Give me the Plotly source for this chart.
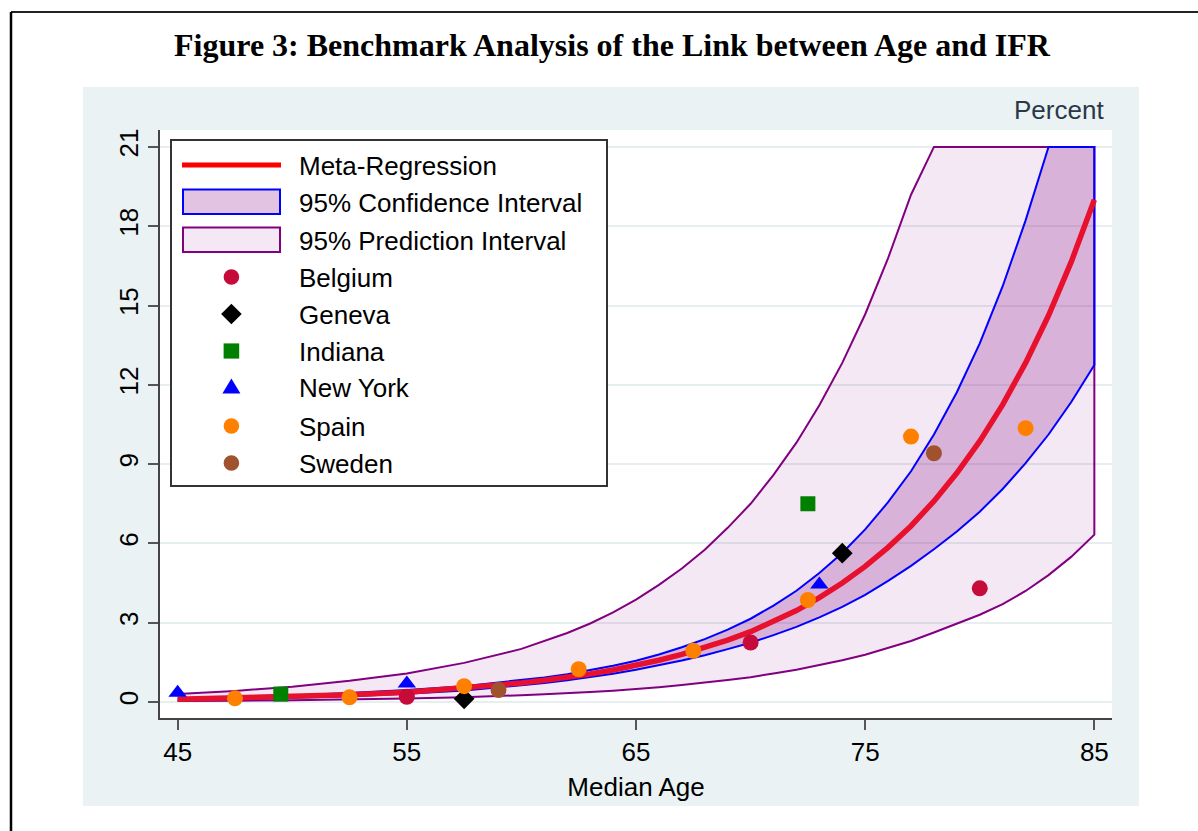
import plotly.graph_objects as go

# ---------------- data ----------------
ages = [45, 47.5, 50, 52.5, 55, 57.5, 60, 61, 62, 63, 64, 65, 66, 67, 68, 69,
        70, 71, 72, 73, 74, 75, 76, 77, 78, 79, 80, 81, 82, 83, 84, 85]
meta_regression = [0.10, 0.14, 0.19, 0.27, 0.37, 0.52, 0.72, 0.82, 0.93, 1.06,
                   1.21, 1.38, 1.58, 1.80, 2.05, 2.34, 2.66, 3.04, 3.46, 3.95,
                   4.50, 5.13, 5.85, 6.66, 7.60, 8.66, 9.87, 11.25, 12.83,
                   14.62, 16.67, 19.0]

# upper bounds stop where they reach the top of the chart (IFR_CAP)
ci_upper_ages = [45, 47.5, 50, 52.5, 55, 57.5, 60, 61, 62, 63, 64, 65, 66, 67,
                 68, 69, 70, 71, 72, 73, 74, 75, 76, 77, 78, 79, 80, 81, 82, 83]
ci_upper = [0.14, 0.19, 0.25, 0.34, 0.45, 0.60, 0.82, 0.93, 1.05, 1.20, 1.37,
            1.56, 1.80, 2.07, 2.38, 2.74, 3.15, 3.65, 4.21, 4.88, 5.64, 6.53,
            7.56, 8.73, 10.12, 11.72, 13.57, 15.73, 18.22, 21.0]
ci_lower = [0.07, 0.10, 0.15, 0.22, 0.31, 0.44, 0.63, 0.72, 0.82, 0.94, 1.07,
            1.22, 1.39, 1.57, 1.77, 2.00, 2.24, 2.53, 2.84, 3.20, 3.60, 4.05,
            4.58, 5.15, 5.78, 6.45, 7.20, 8.06, 9.04, 10.12, 11.36, 12.75]

pi_upper_ages = [45, 47.5, 50, 52.5, 55, 57.5, 60, 61, 62, 63, 64, 65, 66, 67,
                 68, 69, 70, 71, 72, 73, 74, 75, 76, 77, 78]
pi_upper = [0.30, 0.42, 0.58, 0.80, 1.08, 1.48, 2.01, 2.30, 2.61, 2.97, 3.39,
            3.87, 4.43, 5.05, 5.76, 6.59, 7.50, 8.59, 9.81, 11.23, 12.83,
            14.67, 16.79, 19.19, 21.0]
pi_lower = [0.04, 0.05, 0.07, 0.09, 0.13, 0.18, 0.26, 0.29, 0.33, 0.38, 0.43,
            0.49, 0.56, 0.64, 0.73, 0.83, 0.94, 1.08, 1.22, 1.39, 1.58, 1.79,
            2.04, 2.31, 2.63, 2.95, 3.30, 3.70, 4.20, 4.80, 5.50, 6.33]
IFR_CAP = 21
AGE_MAX = 85

belgium_age = [55, 70, 80]
belgium_ifr = [0.2, 2.25, 4.3]
geneva_age = [57.5, 74]
geneva_ifr = [0.12, 5.63]
indiana_age = [49.5, 72.5]
indiana_ifr = [0.3, 7.5]
newyork_age = [45, 55, 73]
newyork_ifr = [0.35, 0.7, 4.45]
spain_age = [47.5, 52.5, 57.5, 62.5, 67.5, 72.5, 77, 82]
spain_ifr = [0.14, 0.18, 0.6, 1.24, 1.94, 3.86, 10.04, 10.36]
sweden_age = [59, 78]
sweden_ifr = [0.45, 9.41]

x_ticks = [45, 55, 65, 75, 85]
y_ticks = [0, 3, 6, 9, 12, 15, 18, 21]

TITLE = "Figure 3: Benchmark Analysis of the Link between Age and IFR"
legend_labels = ["Meta-Regression", "95% Confidence Interval",
                 "95% Prediction Interval", "Belgium", "Geneva", "Indiana",
                 "New York", "Spain", "Sweden"]

# ---------------- styles ----------------
W, H = 1198, 831
L, R, T, B = 160, 1112, 130, 718  # plot area in pixels
FONT = "Liberation Sans, Arial, sans-serif"
RED = "#E8112D"
BLUE = "#0000FF"
PURPLE = "#800080"
CI_FILL = "rgba(128,0,128,0.23)"
PI_FILL = "rgba(128,0,128,0.09)"
C_BEL, C_GEN, C_IND, C_NY, C_SPA, C_SWE = ("#C60B3A", "#000000", "#008000",
                                          "#0000FF", "#FF8000", "#A0522D")


def px(xp):
    return (xp - L) / (R - L)


def py(yp):
    return (B - yp) / (B - T)


fig = go.Figure()
common = dict(showlegend=False, hoverinfo="skip")

# prediction interval: filled band, then its outline
fig.add_trace(go.Scatter(
    x=pi_upper_ages + [AGE_MAX] + ages[::-1],
    y=pi_upper + [IFR_CAP] + pi_lower[::-1],
    mode="lines", fill="toself", fillcolor=PI_FILL,
    line=dict(color=PURPLE, width=2), **common))

# confidence interval
fig.add_trace(go.Scatter(
    x=ci_upper_ages + [AGE_MAX] + ages[::-1],
    y=ci_upper + [IFR_CAP] + ci_lower[::-1],
    mode="lines", fill="toself", fillcolor=CI_FILL,
    line=dict(color=BLUE, width=2), **common))

# meta-regression
fig.add_trace(go.Scatter(x=ages, y=meta_regression, mode="lines",
                         line=dict(color=RED, width=5.5),
                         name="Meta-Regression", showlegend=False))

markers = [
    ("Belgium", belgium_age, belgium_ifr, "circle", C_BEL, 16),
    ("Geneva", geneva_age, geneva_ifr, "diamond", C_GEN, 16),
    ("Indiana", indiana_age, indiana_ifr, "square", C_IND, 15),
    ("New York", newyork_age, newyork_ifr, "triangle-up", C_NY, 16),
    ("Spain", spain_age, spain_ifr, "circle", C_SPA, 16),
    ("Sweden", sweden_age, sweden_ifr, "circle", C_SWE, 16),
]
for nm, xa, ya, sym, col, sz in markers:
    fig.add_trace(go.Scatter(
        x=xa, y=ya, mode="markers", name=nm, showlegend=False,
        marker=dict(symbol=sym, color=col, size=sz, line=dict(width=0))))


# ---------------- shapes: background, frame, legend ----------------
def rect(x0, y0, x1, y1, fill, lc=None, lw=0, layer="above"):
    return dict(type="rect", xref="paper", yref="paper", layer=layer,
                x0=px(x0), x1=px(x1), y0=py(y1), y1=py(y0), fillcolor=fill,
                line=dict(color=lc or fill, width=lw))


def poly(points, fill):
    d = "M " + " L ".join(f"{px(a):.5f},{py(b):.5f}" for a, b in points) + " Z"
    return dict(type="path", xref="paper", yref="paper", path=d,
                fillcolor=fill, line=dict(width=0), layer="above")


shapes = [
    rect(83, 87, 1139, 806, "#EAF2F3", layer="below"),
    rect(L, T, R, B, "white", layer="below"),
    dict(type="line", xref="paper", yref="paper", x0=px(11), x1=px(1205),
         y0=py(12), y1=py(12), line=dict(color="#222222", width=2)),
    dict(type="line", xref="paper", yref="paper", x0=px(11), x1=px(11),
         y0=py(12), y1=py(840), line=dict(color="#000000", width=2.5)),
]

# legend box and keys
LX0, LY0, LX1, LY1 = 171, 140, 607, 486
KX = 231.4
row_y = [165, 202, 240, 277, 314, 351, 387, 426, 463]
shapes.append(rect(LX0, LY0, LX1, LY1, "white", lc="#333333", lw=2))
shapes.append(dict(type="line", xref="paper", yref="paper", x0=px(182),
                   x1=px(281), y0=py(row_y[0]), y1=py(row_y[0]),
                   line=dict(color="#FF0000", width=5)))
shapes.append(rect(183, row_y[1] - 12.5, 280, row_y[1] + 12, CI_FILL, lc=BLUE,
                   lw=2))
shapes.append(rect(183, row_y[2] - 12.5, 280, row_y[2] + 12, PI_FILL,
                   lc=PURPLE, lw=2))
for ry, col in [(row_y[3], C_BEL), (row_y[7], C_SPA), (row_y[8], C_SWE)]:
    shapes.append(dict(type="circle", xref="paper", yref="paper",
                       x0=px(KX - 7.8), x1=px(KX + 7.8), y0=py(ry + 7.8),
                       y1=py(ry - 7.8), fillcolor=col, line=dict(width=0)))
shapes.append(poly([(KX, row_y[4] - 10.3), (KX + 10.3, row_y[4]),
                    (KX, row_y[4] + 10.3), (KX - 10.3, row_y[4])], C_GEN))
shapes.append(rect(KX - 7.8, row_y[5] - 7.6, KX + 7.8, row_y[5] + 7.6, C_IND))
shapes.append(poly([(KX - 9, row_y[6] + 6.5), (KX + 9, row_y[6] + 6.5),
                    (KX, row_y[6] - 8.5)], C_NY))

annotations = [dict(text="Percent", xref="paper", yref="paper",
                    x=px(1106), y=py(110), xanchor="right", yanchor="middle",
                    showarrow=False,
                    font=dict(family=FONT, size=26, color="#2A3848"))]
for lab, ry in zip(legend_labels, row_y):
    annotations.append(dict(text=lab, xref="paper", yref="paper", x=px(297),
                            y=py(ry + 1), xanchor="left", yanchor="middle",
                            showarrow=False,
                            font=dict(family=FONT, size=26, color="black")))

fig.update_layout(
    width=W, height=H,
    margin=dict(l=L, r=W - R, t=T, b=H - B, pad=0),
    paper_bgcolor="white", plot_bgcolor="white",
    font=dict(family=FONT, size=26, color="black"),
    shapes=shapes, annotations=annotations, showlegend=False,
    title=dict(text="<b>" + TITLE + "</b>", xref="container", yref="container",
               x=612 / W, y=1 - 45 / H, xanchor="center", yanchor="middle",
               font=dict(family="Liberation Serif, Times New Roman, serif",
                         size=32, color="black")),
)

fig.update_xaxes(
    range=[44.23, 85.77], tickvals=x_ticks, ticktext=[str(v) for v in x_ticks],
    showgrid=False, zeroline=False, showline=True, linecolor="#444444",
    linewidth=2, ticks="outside", ticklen=10, tickwidth=2, tickcolor="#555555",
    tickfont=dict(family=FONT, size=26, color="black"),
    title=dict(text="Median Age", standoff=12,
               font=dict(family=FONT, size=26, color="black")))
fig.update_yaxes(
    range=[-0.605, 21.64], tickvals=y_ticks, ticktext=[str(v) for v in y_ticks],
    showgrid=True, gridcolor="#E6EEF0", gridwidth=2, zeroline=False,
    showline=True, linecolor="#444444", linewidth=2, ticks="outside",
    ticklen=10, tickwidth=2, tickcolor="#555555", tickangle=-90,
    tickfont=dict(family=FONT, size=26, color="black"))

fig.write_html("out.html", config={"displayModeBar": False},
               post_script="document.body.style.margin='0';"
                           "document.body.style.overflow='hidden';")
